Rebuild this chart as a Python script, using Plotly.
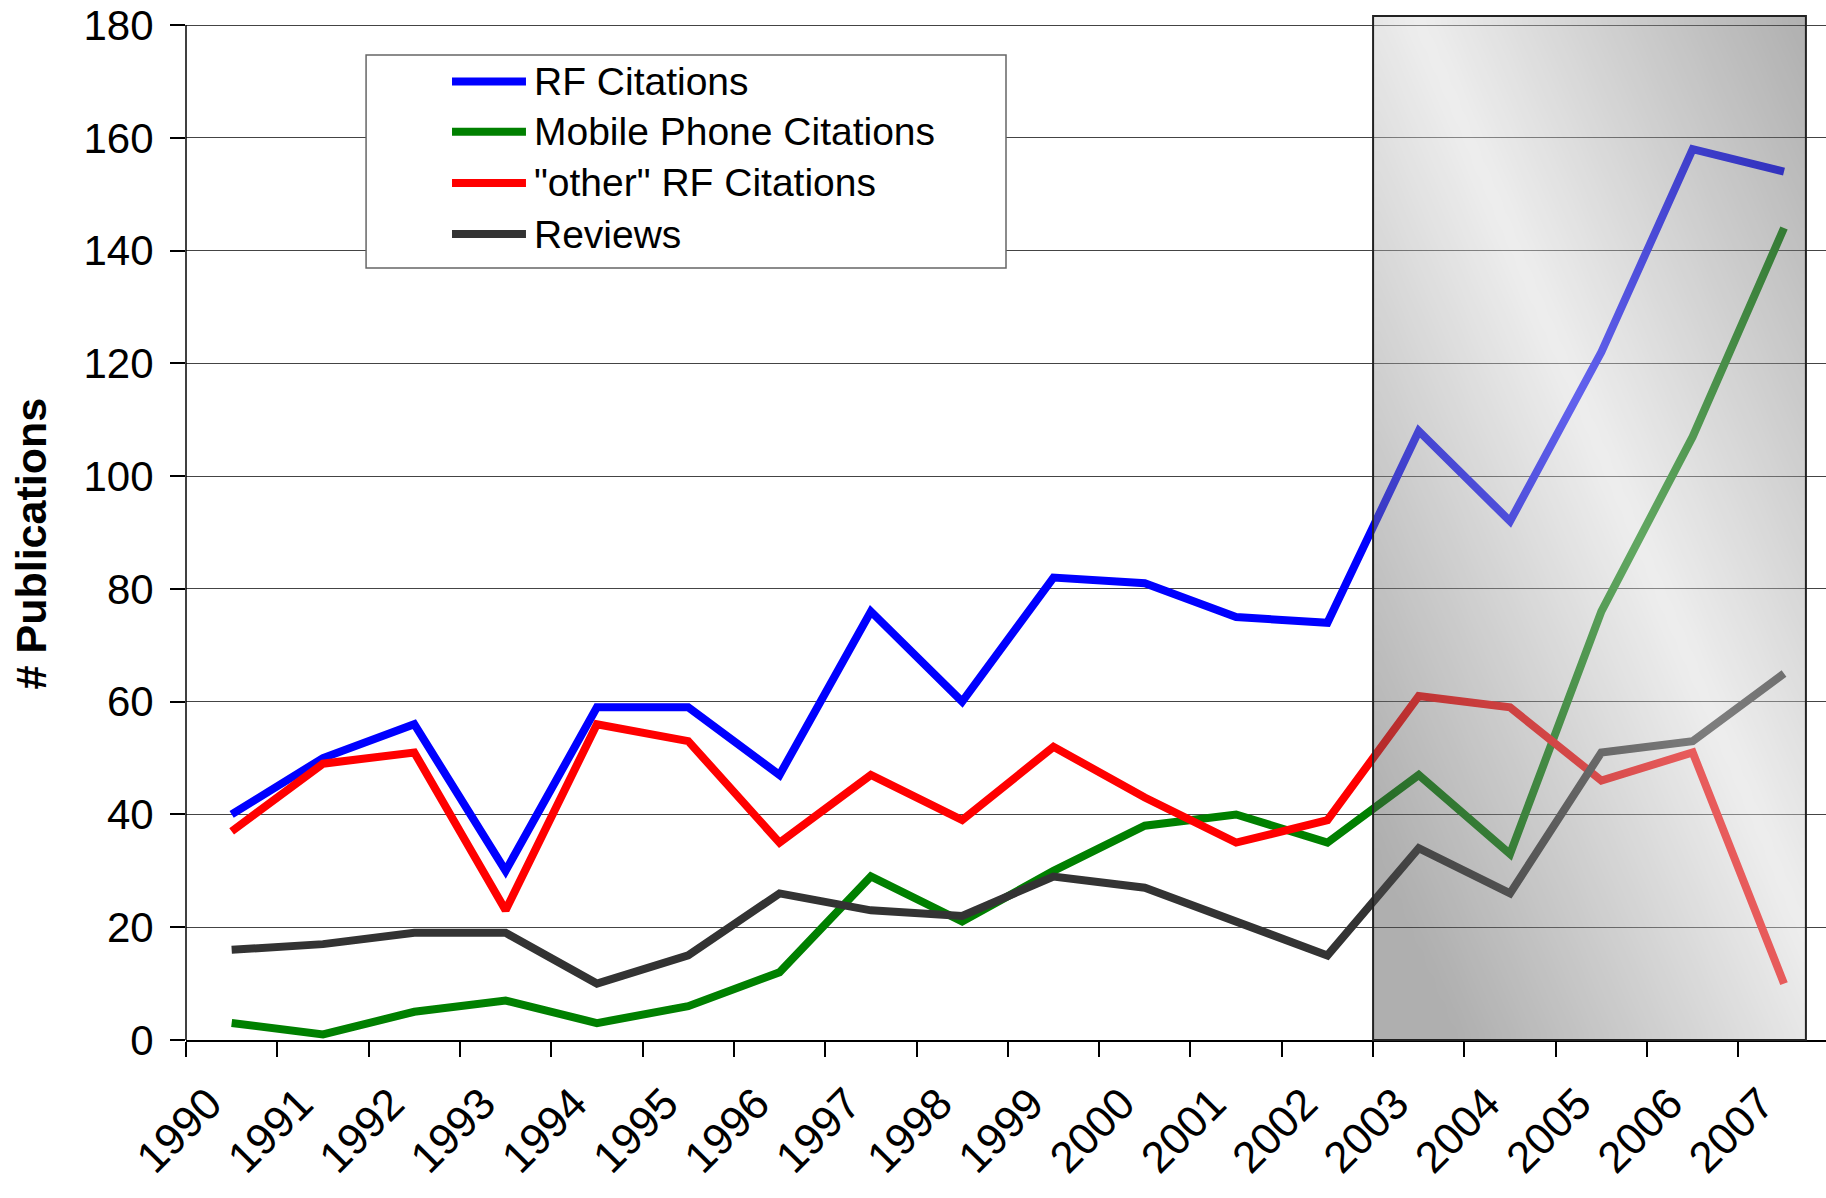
import numpy as np
import plotly.graph_objects as go

# ---- data ----
years = [str(y) for y in range(1990, 2008)]
rf_citations = [40, 50, 56, 30, 59, 59, 47, 76, 60, 82, 81, 75, 74, 108, 92, 122, 158, 154]
mobile_citations = [3, 1, 5, 7, 3, 6, 12, 29, 21, 30, 38, 40, 35, 47, 33, 76, 107, 144]
other_rf_citations = [37, 49, 51, 23, 56, 53, 35, 47, 39, 52, 43, 35, 39, 61, 59, 46, 51, 10]
reviews = [16, 17, 19, 19, 10, 15, 26, 23, 22, 29, 27, 21, 15, 34, 26, 51, 53, 65]
series_names = ["RF Citations", "Mobile Phone Citations", "\"other\" RF Citations", "Reviews"]
series_colors = ["#0000FF", "#008000", "#FF0000", "#333333"]
y_ticks = [0, 20, 40, 60, 80, 100, 120, 140, 160, 180]

series_values = [rf_citations, mobile_citations, other_rf_citations, reviews]

FONT = "Liberation Sans, Arial, sans-serif"
X_RANGE = [-0.5, 17.46]
Y_RANGE = [0, 181.6]
BOX_X = [12.5, 17.24]

fig = go.Figure()

for name, vals, col in zip(series_names, series_values, series_colors):
    fig.add_trace(go.Scatter(x=years, y=vals, name=name, mode="lines",
                             line=dict(color=col, width=8), showlegend=False))

# gradient overlay box (decoration) on overlaying linear axis
nx, ny = 40, 80
xe = np.linspace(BOX_X[0], BOX_X[1], nx + 1)
ye = np.linspace(Y_RANGE[0], Y_RANGE[1], ny + 1)
uc = (np.arange(nx) + 0.5) / nx
vc = (np.arange(ny) + 0.5) / ny
U, V = np.meshgrid(uc, vc)
T = np.clip(np.abs(U + V - 1.1) / 0.9, 0, 1)
fig.add_trace(go.Heatmap(x=xe, y=ye, z=T, zmin=0, zmax=1, zsmooth="best",
                         colorscale=[[0, "rgb(217,217,217)"], [1, "rgb(79,79,79)"]],
                         showscale=False, opacity=0.45, hoverinfo="skip",
                         xaxis="x2", yaxis="y"))

shapes = []
# box border
shapes.append(dict(type="rect", xref="x2", yref="paper", x0=BOX_X[0], x1=BOX_X[1],
                   y0=0, y1=1, line=dict(color="#222222", width=2),
                   fillcolor="rgba(0,0,0,0)", layer="above"))
# y axis line
shapes.append(dict(type="line", xref="paper", yref="y", x0=0, x1=0, y0=0, y1=180,
                   line=dict(color="black", width=1.5), layer="above"))

# custom legend
lx0, lx1, ly0, ly1 = 0.1098, 0.5, 0.754, 0.962
shapes.append(dict(type="rect", xref="paper", yref="paper", x0=lx0, x1=lx1, y0=ly0, y1=ly1,
                   line=dict(color="#666666", width=1.5), fillcolor="white", layer="above"))
row_y = [0.936, 0.887, 0.837, 0.787]
annotations = []
for name, col, ry in zip(series_names, series_colors, row_y):
    shapes.append(dict(type="line", xref="paper", yref="paper", x0=0.1622, x1=0.2073,
                       y0=ry, y1=ry, line=dict(color=col, width=8), layer="above"))
    annotations.append(dict(xref="paper", yref="paper", x=0.2107, y=ry, text=name,
                            showarrow=False, xanchor="left", yanchor="middle",
                            font=dict(family=FONT, size=39, color="black")))

annotations.append(dict(xref="paper", yref="paper", x=-0.0945, y=0.485,
                        text="<b># Publications</b>", textangle=-90, showarrow=False,
                        xanchor="center", yanchor="middle",
                        font=dict(family=FONT, size=43, color="black")))

fig.update_layout(
    width=1826, height=1198,
    margin=dict(l=186, r=0, t=16, b=158, autoexpand=False),
    paper_bgcolor="white", plot_bgcolor="white",
    font=dict(family=FONT, color="black"),
    showlegend=False,
    xaxis=dict(type="category", range=X_RANGE, tickson="boundaries", ticks="outside",
               ticklen=15, tickwidth=1.5, tickcolor="black", tickangle=-45,
               tickfont=dict(family=FONT, size=44), showgrid=False, zeroline=False,
               showline=True, linecolor="black", linewidth=2, ticklabelstandoff=18,
               ticklabelshift=-23, automargin=False, ticklabeloverflow="allow"),
    xaxis2=dict(type="linear", range=X_RANGE, overlaying="x", anchor="y", visible=False),
    yaxis=dict(range=Y_RANGE, tickvals=y_ticks, ticks="outside", ticklen=15, tickwidth=1.5,
               tickcolor="black", tickfont=dict(family=FONT, size=42), showgrid=True,
               gridcolor="#444444", gridwidth=1, zeroline=False, showline=False,
               ticklabelstandoff=8, automargin=False, ticklabeloverflow="allow"),
    shapes=shapes,
    annotations=annotations,
)

fig.write_html("out.html", config={"displayModeBar": False},
               post_script="document.body.style.margin='0';document.body.style.overflow='hidden';")
